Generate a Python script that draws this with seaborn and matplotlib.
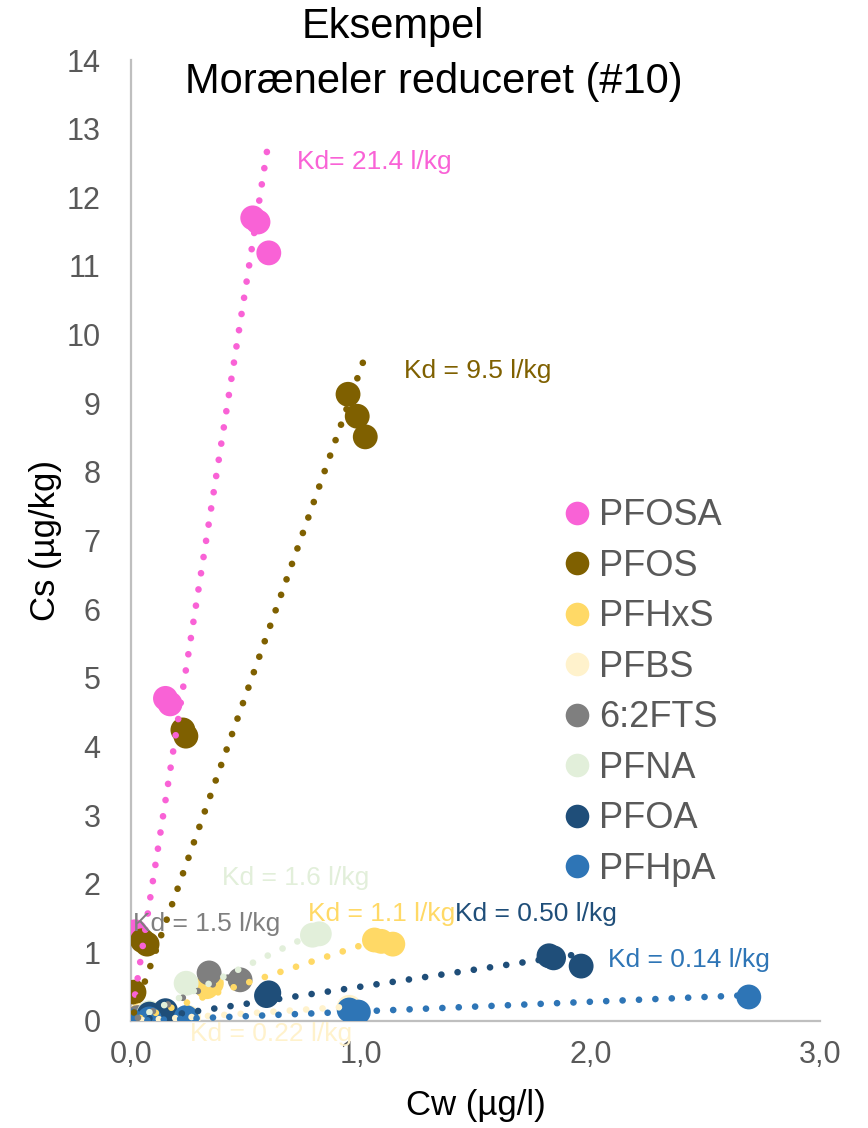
import numpy as np
import pandas as pd
import matplotlib
matplotlib.use("Agg")
import matplotlib.pyplot as plt
import seaborn as sns

# ---------------- data ----------------
series = ["PFOSA", "PFOS", "PFHxS", "PFBS", "6:2FTS", "PFNA", "PFOA", "PFHpA"]
colors = ["#F962D6", "#7F6000", "#FFD966", "#FFF2CC", "#7F7F7F", "#E2EFDA", "#1F4E79", "#2E75B6"]
kd_values = [21.4, 9.5, 1.1, 0.22, 1.5, 1.6, 0.50, 0.14]
kd_labels = ["Kd= 21.4 l/kg", "Kd = 9.5 l/kg", "Kd = 1.1 l/kg", "Kd = 0.22 l/kg",
             "Kd = 1.5 l/kg", "Kd = 1.6 l/kg", "Kd = 0.50 l/kg", "Kd = 0.14 l/kg"]

pfosa_cw = [0.018, 0.15, 0.17, 0.53, 0.553, 0.60]
pfosa_cs = [1.30, 4.70, 4.62, 11.70, 11.64, 11.19]
pfos_cw = [0.013, 0.05, 0.07, 0.226, 0.239, 0.945, 0.985, 1.02]
pfos_cs = [0.42, 1.17, 1.12, 4.24, 4.15, 9.13, 8.81, 8.51]
pfhxs_cw = [0.04, 0.33, 0.35, 1.06, 1.09, 1.14]
pfhxs_cs = [0.08, 0.50, 0.55, 1.18, 1.16, 1.12]
pfbs_cw = [0.05, 0.25, 0.95]
pfbs_cs = [0.08, 0.05, 0.20]
fts_cw = [0.03, 0.34, 0.475]
fts_cs = [0.05, 0.70, 0.60]
pfna_cw = [0.08, 0.24, 0.79, 0.82]
pfna_cs = [0.12, 0.55, 1.25, 1.27]
pfoa_cw = [0.08, 0.15, 0.59, 0.60, 1.82, 1.84, 1.96]
pfoa_cs = [0.10, 0.15, 0.37, 0.41, 0.95, 0.92, 0.80]
pfhpa_cw = [0.0, 0.08, 0.24, 0.95, 0.99, 2.69]
pfhpa_cs = [0.0, 0.03, 0.05, 0.16, 0.13, 0.35]

cw_lists = [pfosa_cw, pfos_cw, pfhxs_cw, pfbs_cw, fts_cw, pfna_cw, pfoa_cw, pfhpa_cw]
cs_lists = [pfosa_cs, pfos_cs, pfhxs_cs, pfbs_cs, fts_cs, pfna_cs, pfoa_cs, pfhpa_cs]

x_ticks = [0, 1, 2, 3]
x_ticklabels = ["0,0", "1,0", "2,0", "3,0"]
y_ticks = list(range(0, 15))

# label positions (data coords, left/center anchored)
label_pos = [(0.722, 12.52), (1.19, 9.47), (0.77, 1.56), (0.257, -0.19),
             (0.009, 1.41), (0.395, 2.08), (1.41, 1.56), (2.075, 0.89)]

rows = []
for name, xs, ys in zip(series, cw_lists, cs_lists):
    for xv, yv in zip(xs, ys):
        rows.append({"Cw": xv, "Cs": yv, "Stof": name})
df = pd.DataFrame(rows)

# ---------------- figure ----------------
sns.set_theme(style="white")
plt.rcParams["font.family"] = ["Liberation Sans", "DejaVu Sans"]

W, H = 868, 1128
fig = plt.figure(figsize=(W / 100, H / 100), dpi=100)
ax = fig.add_axes([131 / W, 1 - 1021 / H, (820 - 131) / W, (1021 - 60) / H])

palette = dict(zip(series, colors))
sns.scatterplot(data=df, x="Cw", y="Cs", hue="Stof", hue_order=series, palette=palette,
                s=320, linewidth=0, ax=ax, legend=True, zorder=3)

# trendlines (through origin) on top of markers
for name, xs, kd, col in zip(series, cw_lists, kd_values, colors):
    xline = np.array([min(xs), max(xs)])
    sns.lineplot(x=xline, y=kd * xline, color=col, lw=4.8,
                 linestyle=(0, (0.01, 2.45)), dash_capstyle="round",
                 ax=ax, zorder=4, legend=False)

for lab, (lx, ly), col in zip(kd_labels, label_pos, colors):
    ax.text(lx, ly, lab, color=col, fontsize=19, ha="left", va="center",
            clip_on=False, zorder=5)

ax.set_xlim(0, 3)
ax.set_ylim(0, 14)
ax.set_xticks(x_ticks)
ax.set_xticklabels(x_ticklabels)
ax.set_yticks(y_ticks)
ax.tick_params(axis="both", length=0, labelsize=22, colors="#595959")
ax.tick_params(axis="y", pad=22)
ax.tick_params(axis="x", pad=14)

for s in ["top", "right"]:
    ax.spines[s].set_visible(False)
for s in ["left", "bottom"]:
    ax.spines[s].set_color("#BFBFBF")
    ax.spines[s].set_linewidth(1.6)
ax.grid(False)

ax.set_xlabel("Cw (µg/l)", fontsize=25, color="black")
ax.set_ylabel("Cs (µg/kg)", fontsize=25, color="black")
ax.xaxis.set_label_coords((476 - 131) / 689, (1021 - 1105) / 961)
ax.xaxis.label.set_va("center")
ax.yaxis.set_label_coords((45 - 131) / 689, (1021 - 540) / 961)
ax.yaxis.label.set_va("center")

fig.text(393 / W, 1 - 27 / H, "Eksempel", ha="center", va="center", fontsize=30, color="black")
fig.text(434 / W, 1 - 82 / H, "Moræneler reduceret (#10)", ha="center", va="center",
         fontsize=30, color="black")

# legend
handles, labels = ax.get_legend_handles_labels()
handles = handles[:len(series)]
labels = labels[:len(series)]
leg = ax.legend(handles, labels, loc="center left",
                bbox_to_anchor=(563 / W, 1 - 692.5 / H), bbox_transform=fig.transFigure,
                frameon=False, fontsize=26, labelspacing=0.43, handlelength=0.8,
                handletextpad=0.2, borderpad=0, borderaxespad=0)
for h in leg.legend_handles:
    try:
        h.set_markersize(17)
    except AttributeError:
        h.set_sizes([320])
for t in leg.get_texts():
    t.set_color("#595959")

fig.savefig("out.png", dpi=100)
